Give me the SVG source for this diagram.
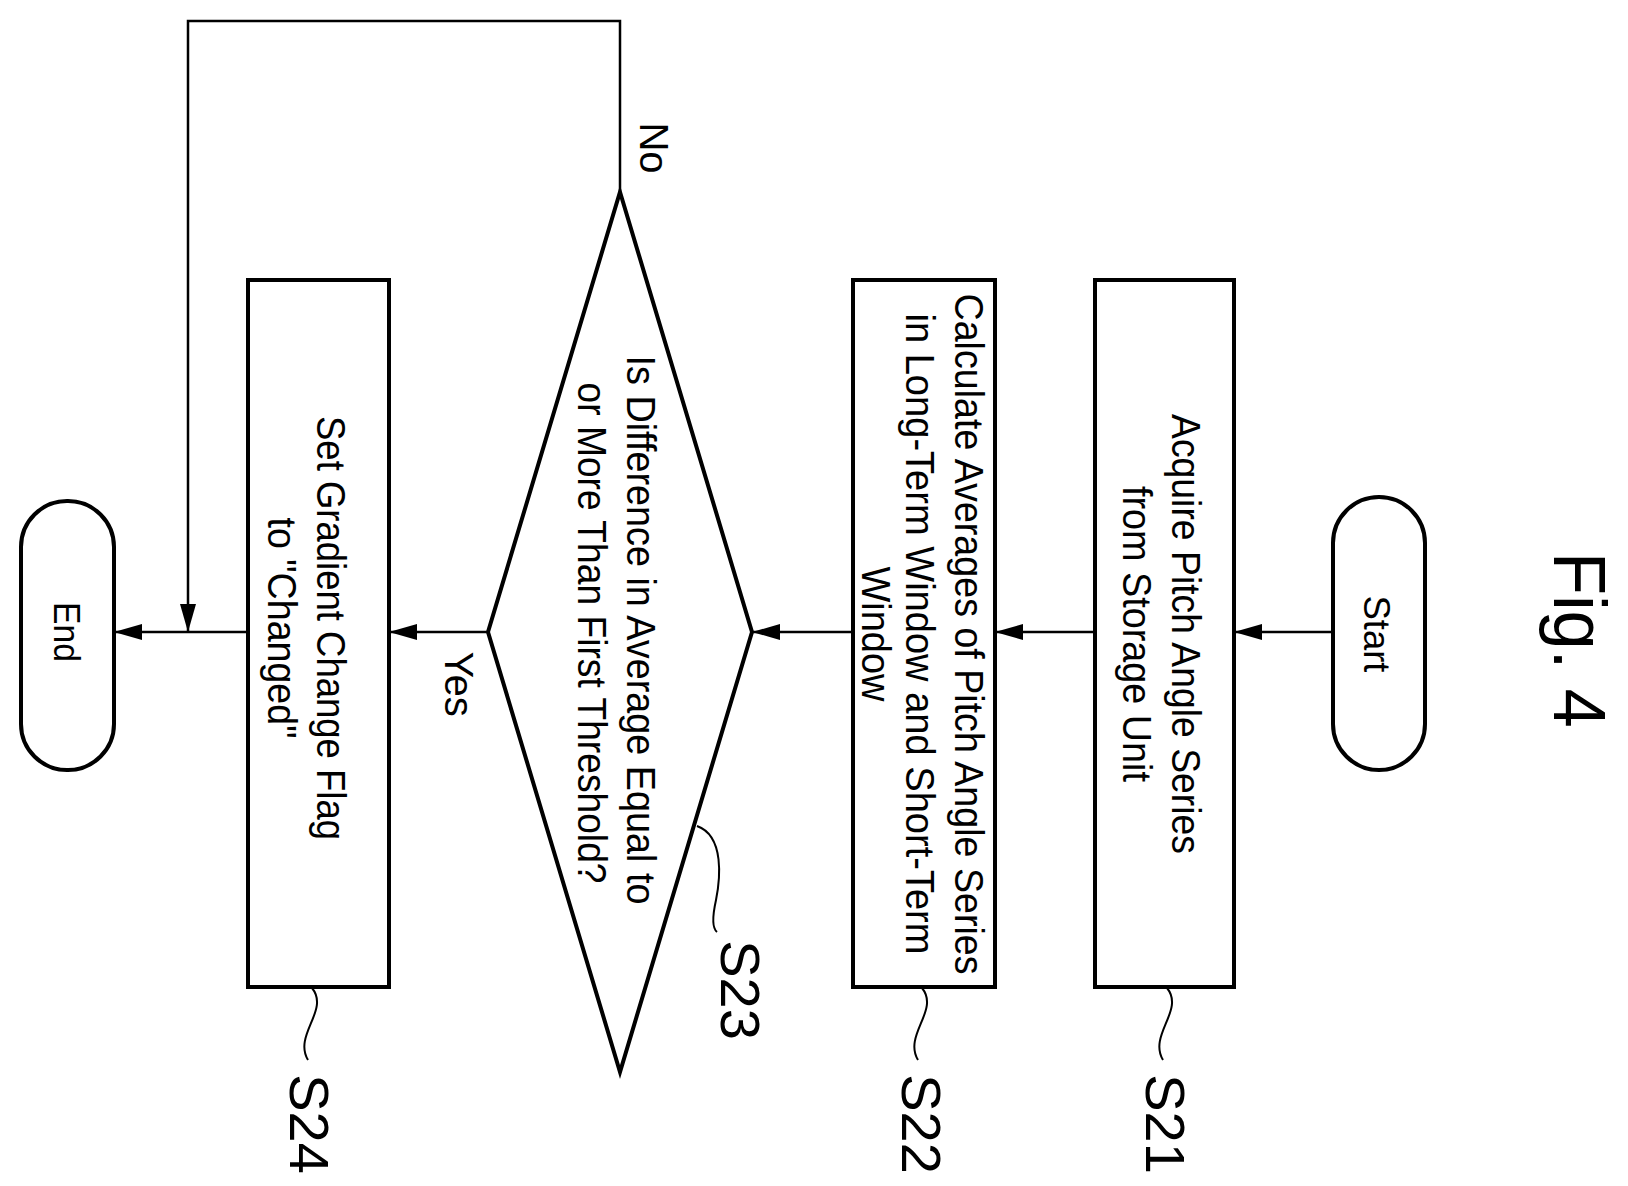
<svg xmlns="http://www.w3.org/2000/svg" width="1628" height="1186" viewBox="0 0 1628 1186">
<defs>
<marker id="ah" markerWidth="28" markerHeight="16" refX="28" refY="8" orient="auto" markerUnits="userSpaceOnUse"><path d="M0,0 L28,8 L0,16 Z" fill="#000"/></marker>
</defs>
<style>
.box{fill:#fff;stroke:#000;stroke-width:4}
.ln{fill:none;stroke:#000;stroke-width:2.5}
.lead{fill:none;stroke:#000;stroke-width:2}
text{font-family:"Liberation Sans",Arial,sans-serif;fill:#000;text-anchor:middle}
.t{font-size:40px}
.lab{font-size:56px}
</style>
<rect width="1628" height="1186" fill="#fff"/>
<g id="title"><text transform="translate(1554,640) rotate(90)" font-size="75" textLength="176" lengthAdjust="spacingAndGlyphs">Fig. 4</text></g>
<g id="connectors">
<line class="ln" x1="1333" y1="632" x2="1234" y2="632" marker-end="url(#ah)"/>
<line class="ln" x1="1095" y1="632" x2="995" y2="632" marker-end="url(#ah)"/>
<line class="ln" x1="853" y1="632" x2="752" y2="632" marker-end="url(#ah)"/>
<line class="ln" x1="488" y1="632" x2="389" y2="632" marker-end="url(#ah)"/>
<line class="ln" x1="248" y1="632" x2="114" y2="632" marker-end="url(#ah)"/>
<polyline class="ln" points="620,192 620,21 188,21 188,632" marker-end="url(#ah)"/>
<text class="t" transform="translate(640,148) rotate(90)">No</text>
<text class="t" transform="translate(445,684) rotate(90)">Yes</text>
</g>
<g id="start"><rect class="box" x="1333" y="497" width="92" height="273" rx="46"/><text transform="translate(1364,634) rotate(90)" font-size="36" textLength="77" lengthAdjust="spacingAndGlyphs">Start</text></g>
<g id="S21"><rect class="box" x="1095" y="280" width="139" height="707"/>
<text class="t" transform="translate(1172,634) rotate(90)" textLength="440" lengthAdjust="spacingAndGlyphs">Acquire Pitch Angle Series</text>
<text class="t" transform="translate(1123,634) rotate(90)" textLength="296" lengthAdjust="spacingAndGlyphs">from Storage Unit</text>
<path class="lead" d="M1167,988 C1185,1010 1148,1035 1163,1060"/>
<text class="lab" transform="translate(1146,1124) rotate(90)">S21</text></g>
<g id="S22"><rect class="box" x="853" y="280" width="142" height="707"/>
<text class="t" transform="translate(955,634) rotate(90)" textLength="681" lengthAdjust="spacingAndGlyphs">Calculate Averages of Pitch Angle Series</text>
<text class="t" transform="translate(906,634) rotate(90)" textLength="641" lengthAdjust="spacingAndGlyphs">in Long-Term Window and Short-Term</text>
<text class="t" transform="translate(862,634) rotate(90)" textLength="135" lengthAdjust="spacingAndGlyphs">Window</text>
<path class="lead" d="M922,988 C940,1010 903,1035 918,1060"/>
<text class="lab" transform="translate(902,1124) rotate(90)">S22</text></g>
<g id="S23"><polygon class="box" points="620,192 752,632 620,1072 488,632"/>
<text class="t" transform="translate(627,630) rotate(90)" textLength="549" lengthAdjust="spacingAndGlyphs">Is Difference in Average Equal to</text>
<text class="t" transform="translate(578,633) rotate(90)" textLength="501" lengthAdjust="spacingAndGlyphs">or More Than First Threshold?</text>
<path class="lead" d="M697,826 C725,836 720,880 716,900 C712,918 712,928 717,932"/>
<text class="lab" transform="translate(721,990) rotate(90)">S23</text></g>
<g id="S24"><rect class="box" x="248" y="280" width="141" height="707"/>
<text class="t" transform="translate(317,628) rotate(90)" textLength="424" lengthAdjust="spacingAndGlyphs">Set Gradient Change Flag</text>
<text class="t" transform="translate(268,628) rotate(90)" textLength="221" lengthAdjust="spacingAndGlyphs">to "Changed"</text>
<path class="lead" d="M312,988 C330,1010 293,1035 308,1060"/>
<text class="lab" transform="translate(290,1124) rotate(90)">S24</text></g>
<g id="end"><rect class="box" x="21" y="501" width="93" height="269" rx="46"/><text transform="translate(54,632) rotate(90)" font-size="36" textLength="60" lengthAdjust="spacingAndGlyphs">End</text></g>
</svg>
